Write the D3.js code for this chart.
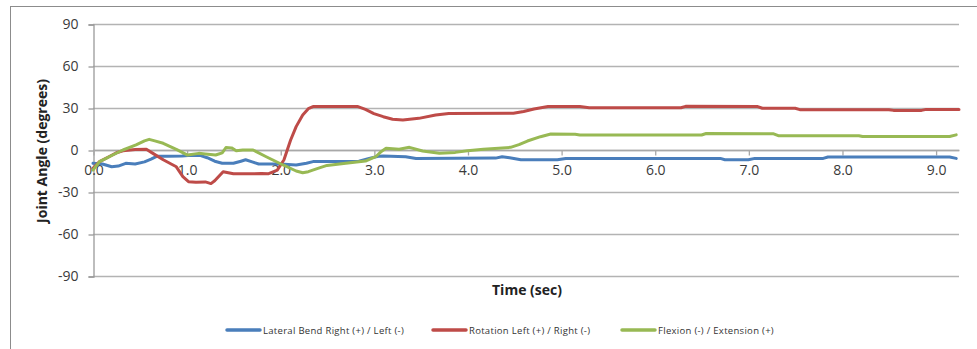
<!DOCTYPE html>
<html>
<head>
<meta charset="utf-8">
<script src="https://cdn.jsdelivr.net/npm/d3@7"></script>
<style>
  html, body { margin: 0; padding: 0; background: #fff; }
  svg { display: block; font-family: "Open Sans", "DejaVu Sans", sans-serif; }
</style>
</head>
<body>
<svg id="chart" width="977" height="349"></svg>
<script>
// ---- data ----
const xTicks = [0, 1, 2, 3, 4, 5, 6, 7, 8, 9];
const yTicks = [-90, -60, -30, 0, 30, 60, 90];
const seriesNames = [
  "Lateral Bend Right (+) / Left (-)",
  "Rotation Left (+) / Right (-)",
  "Flexion (-) / Extension (+)"
];
const seriesColors = ["#4A7EBB", "#BE4B48", "#98B954"];

const lateralT = [0, 0.1, 0.2, 0.27, 0.35, 0.45, 0.55, 0.62, 0.68, 0.8, 0.95, 1.05, 1.15, 1.22, 1.3, 1.38, 1.5, 1.58, 1.63, 1.7, 1.77, 2.0, 2.17, 2.28, 2.35, 2.6, 2.84, 2.95, 3.05, 3.1, 3.34, 3.45, 4.3, 4.37, 4.45, 4.57, 4.96, 5.05, 6.7, 6.75, 7.0, 7.07, 7.8, 7.85, 9.15, 9.22];
const lateralV = [-9.5, -10, -12, -11.5, -9.5, -10, -8.5, -6.5, -4.5, -4.5, -4.3, -3.8, -4, -5.5, -8, -9.5, -9.5, -8, -7, -8.5, -10, -10, -10.7, -9.5, -8.3, -8.3, -8, -6, -4.5, -4.3, -4.8, -6, -5.8, -4.8, -5.5, -7, -7, -6, -6, -7, -7, -6, -6, -5, -5, -6];

const rotationT = [0, 0.07, 0.17, 0.25, 0.32, 0.45, 0.57, 0.64, 0.75, 0.89, 0.96, 1.02, 1.1, 1.2, 1.26, 1.3, 1.39, 1.5, 1.7, 1.8, 1.87, 1.97, 2.04, 2.11, 2.17, 2.24, 2.3, 2.35, 2.83, 2.91, 3.0, 3.1, 3.2, 3.31, 3.48, 3.66, 3.8, 4.49, 4.6, 4.71, 4.86, 5.2, 5.3, 6.28, 6.33, 7.1, 7.15, 7.5, 7.55, 8.5, 8.55, 8.85, 8.9, 9.25];
const rotationV = [-13, -8.3, -4.8, -2, -0.5, 0.3, 0.5, -2.4, -7, -12, -19, -22.6, -23, -22.8, -24, -22, -15.5, -17, -17, -16.7, -17, -14.3, -7, 7, 16.7, 25, 29.5, 31, 31, 29, 26, 23.8, 22, 21.4, 22.6, 25, 26, 26.2, 27.5, 29.3, 31, 31, 30.2, 30.2, 31.2, 31, 29.8, 29.8, 28.8, 28.8, 28.3, 28.3, 29, 29];

const flexionT = [0, 0.07, 0.14, 0.21, 0.32, 0.46, 0.55, 0.6, 0.66, 0.75, 0.89, 1.01, 1.13, 1.2, 1.31, 1.38, 1.42, 1.48, 1.53, 1.6, 1.71, 1.85, 2.03, 2.17, 2.24, 2.3, 2.41, 2.5, 2.7, 2.91, 3.02, 3.08, 3.13, 3.27, 3.38, 3.52, 3.7, 3.87, 4.0, 4.17, 4.46, 4.55, 4.64, 4.78, 4.89, 5.15, 5.2, 6.5, 6.55, 7.27, 7.32, 8.18, 8.22, 9.15, 9.22];
const flexionV = [-14.3, -8.3, -6, -3.6, 0, 3.6, 6.5, 7.6, 6.5, 4.8, 0.5, -3.6, -2.4, -2.8, -3.6, -2, 1.7, 1.5, -0.5, 0, 0, -4.8, -10.7, -15, -16.2, -15.5, -13, -11, -9.5, -7.9, -4.8, -1, 1.2, 0.5, 1.9, -0.7, -2.4, -1.7, -0.5, 0.5, 1.9, 3.8, 6.4, 9.5, 11.4, 11.2, 10.7, 10.7, 11.8, 11.6, 10.2, 10.2, 9.6, 9.6, 10.8];

const seriesT = [lateralT, rotationT, flexionT];
const seriesV = [lateralV, rotationV, flexionV];

// ---- layout ----
const plot = { left: 93, right: 959, top: 24, bottom: 276 };
const svg = d3.select("#chart");

// outer chart border
svg.append("rect")
  .attr("x", 10.5).attr("y", 6.5)
  .attr("width", 980).attr("height", 360)
  .attr("fill", "none").attr("stroke", "#8c8c8c").attr("stroke-width", 1);

const x = d3.scaleLinear().domain([0, 9.25]).range([plot.left, plot.right]);
const y = d3.scaleLinear().domain([-90, 90]).range([plot.bottom, plot.top]);

// horizontal gridlines
svg.append("g")
  .selectAll("line")
  .data(yTicks)
  .join("line")
  .attr("x1", plot.left).attr("x2", plot.right)
  .attr("y1", d => Math.round(y(d)) + 0.5).attr("y2", d => Math.round(y(d)) + 0.5)
  .attr("stroke", "#b3b3b3").attr("stroke-width", 1.3);

// y axis
const yAxis = d3.axisLeft(y).tickValues(yTicks).tickSize(5).tickPadding(10).tickFormat(d => String(d));
const gy = svg.append("g")
  .attr("transform", `translate(${plot.left + 0.5},0.5)`)
  .call(yAxis);
gy.select(".domain").attr("stroke", "#9a9a9a").attr("stroke-width", 1.3);
gy.selectAll(".tick line").attr("stroke", "#9a9a9a").attr("stroke-width", 1.3);
gy.selectAll(".tick text")
  .attr("fill", "#3a3a3a").attr("font-size", 14)
  .attr("font-family", "'Open Sans', sans-serif");

// x axis at y = 0
const xAxis = d3.axisBottom(x).tickValues(xTicks).tickSize(5).tickPadding(10).tickFormat(d3.format(".1f"));
const gx = svg.append("g")
  .attr("transform", `translate(0.5,${Math.round(y(0)) + 0.5})`)
  .call(xAxis);
gx.select(".domain").attr("d", `M${plot.left},0H${plot.right}`).attr("stroke", "#a8a8a8").attr("stroke-width", 1.3);
gx.selectAll(".tick line").attr("stroke", "#a8a8a8").attr("stroke-width", 1.3);
gx.selectAll(".tick text")
  .attr("fill", "#3a3a3a").attr("font-size", 14)
  .attr("font-family", "'Open Sans', sans-serif");

// lines
const line = d3.line().x(d => x(d[0])).y(d => y(d[1]));
seriesNames.forEach((name, i) => {
  const pts = seriesT[i].map((t, j) => [t, seriesV[i][j]]);
  svg.append("path")
    .datum(pts)
    .attr("d", line)
    .attr("fill", "none")
    .attr("stroke", seriesColors[i])
    .attr("stroke-width", 3)
    .attr("stroke-linejoin", "round")
    .attr("stroke-linecap", "round");
});

// axis titles
svg.append("text")
  .attr("x", 527).attr("y", 295)
  .attr("text-anchor", "middle")
  .attr("font-size", 14).attr("font-weight", "bold").attr("fill", "#222")
  .text("Time (sec)");

svg.append("text")
  .attr("transform", `translate(47,151) rotate(-90)`)
  .attr("text-anchor", "middle")
  .attr("font-size", 14).attr("font-weight", "bold").attr("fill", "#222")
  .text("Joint Angle (degrees)");

// legend
const legendX = [227, 433, 622];
const legend = svg.append("g");
seriesNames.forEach((name, i) => {
  const g = legend.append("g").attr("transform", `translate(${legendX[i]},330)`);
  g.append("line").attr("x1", 0).attr("x2", 33).attr("y1", 0).attr("y2", 0)
    .attr("stroke", seriesColors[i]).attr("stroke-width", 3.5).attr("stroke-linecap", "round");
  g.append("text").attr("x", 36).attr("y", 3.5)
    .attr("font-size", 9.5).attr("letter-spacing", 0.3).attr("fill", "#333")
    .text(name);
});
</script>
</body>
</html>
